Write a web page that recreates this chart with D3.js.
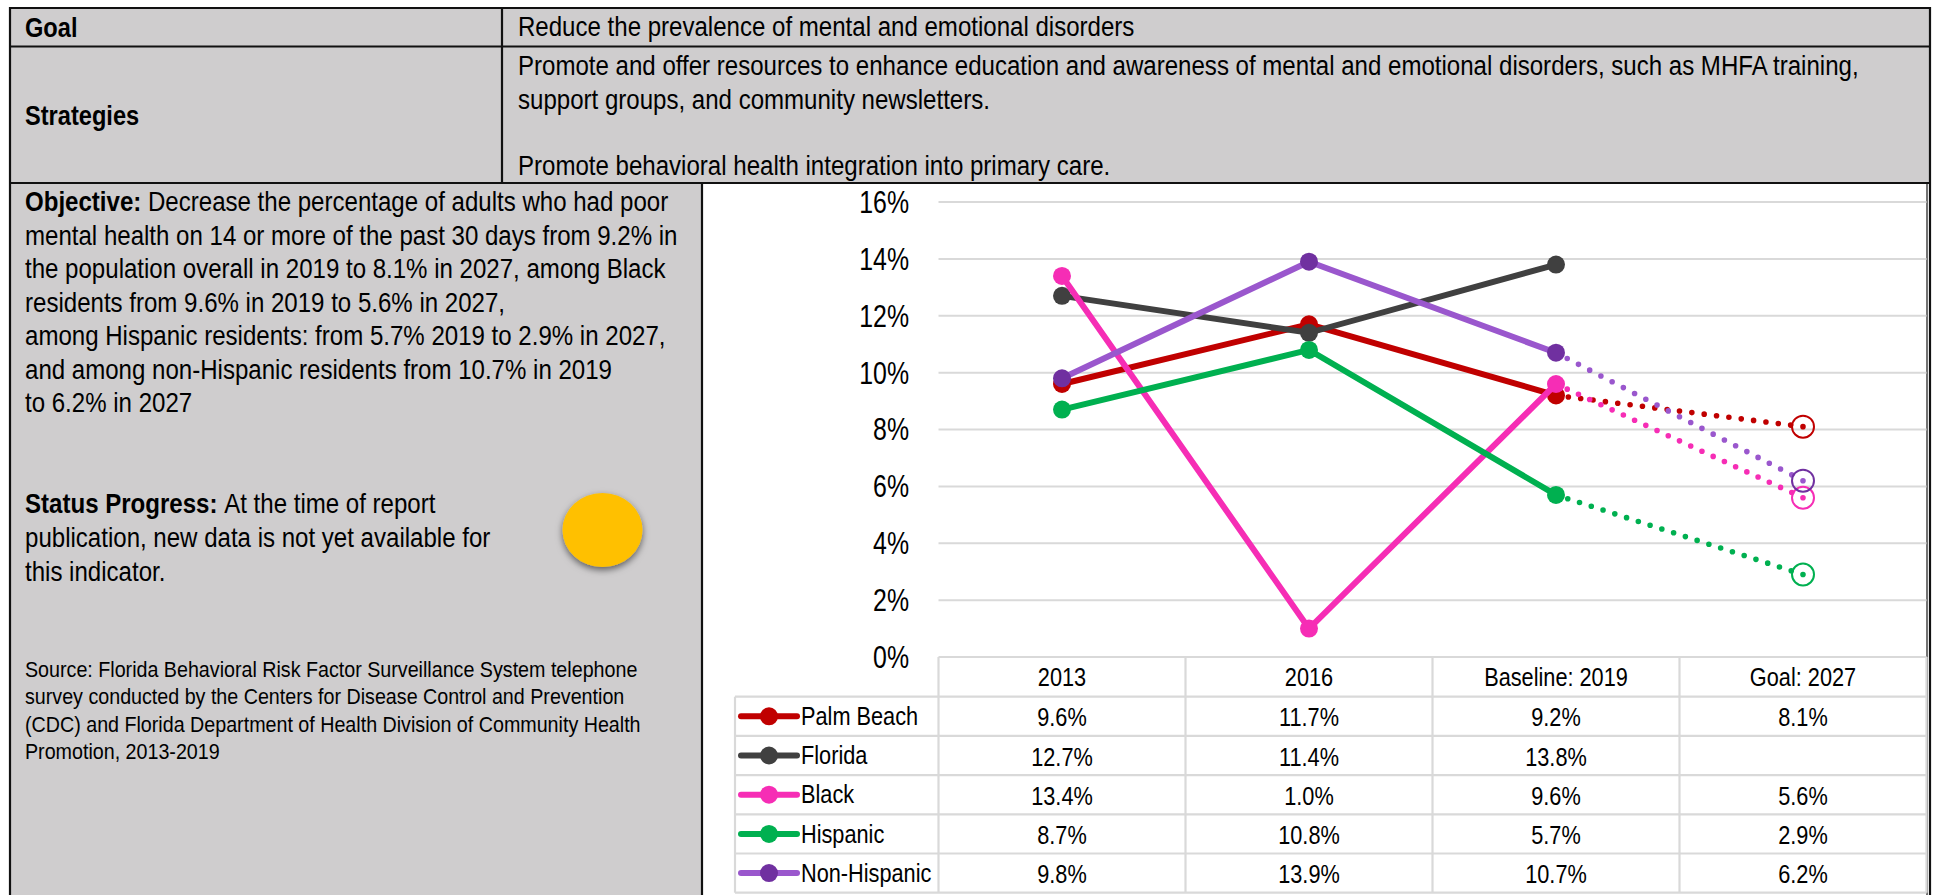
<!DOCTYPE html>
<html>
<head>
<meta charset="utf-8">
<script src="https://cdn.jsdelivr.net/npm/d3@7"></script>
<style>
  body { margin: 0; background: #fff; }
  svg { display: block; }
  text { font-family: "Liberation Sans", Arial, sans-serif; fill: #000; }
</style>
</head>
<body>
<div class="container"></div>
<script>
var categories = ["2013", "2016", "Baseline: 2019", "Goal: 2027"];
var seriesNames = ["Palm Beach", "Florida", "Black", "Hispanic", "Non-Hispanic"];

var palmBeach = [9.6, 11.7, 9.2, 8.1];
var florida = [12.7, 11.4, 13.8, null];
var black = [13.4, 1.0, 9.6, 5.6];
var hispanic = [8.7, 10.8, 5.7, 2.9];
var nonHispanic = [9.8, 13.9, 10.7, 6.2];

var yTicks = [0, 2, 4, 6, 8, 10, 12, 14, 16];

var goalText = "Reduce the prevalence of mental and emotional disorders";
var strategyLines = [
  "Promote and offer resources to enhance education and awareness of mental and emotional disorders, such as MHFA training,",
  "support groups, and community newsletters.",
  "Promote behavioral health integration into primary care."
];
var objectiveLines = [
  "Decrease the percentage of adults who had poor",
  "mental health on 14 or more of the past 30 days from 9.2% in",
  "the population overall in 2019 to 8.1% in 2027, among Black",
  "residents from 9.6% in 2019 to 5.6% in 2027,",
  "among Hispanic residents: from 5.7% 2019 to 2.9% in 2027,",
  "and among non-Hispanic residents from 10.7% in 2019",
  "to 6.2% in 2027"
];
var statusLines = [
  "At the time of report",
  "publication, new data is not yet available for",
  "this indicator."
];
var sourceLines = [
  "Source: Florida Behavioral Risk Factor Surveillance System telephone",
  "survey conducted by the Centers for Disease Control and Prevention",
  "(CDC) and Florida Department of Health Division of Community Health",
  "Promotion, 2013-2019"
];

const WIDTH = 1939;
const HEIGHT = 895;
const PANEL_GREY = "#cfcdce";
const BORDER = "#111";
const GRID = "#d9d9d9";
const PANEL_SX = 0.875; // the source picture is squeezed horizontally
const TABLE_SX = 0.82;
const AXIS_SX = 0.79;
const BODY_SIZE = 27.5;
const LINE_WIDTH = 6;

const LINE_COLORS = ["#c00000", "#404040", "#f62db5", "#00b050", "#9a57cd"];
const MARKER_COLORS = ["#c00000", "#404040", "#f62db5", "#00b050", "#7030a0"];

const PANEL_RIGHT = 1930;
const PLOT_LEFT = 938.5;
const PLOT_RIGHT = 1926.5;
const PLOT_TOP = 202;
const PLOT_BOTTOM = 657;
const LEGEND_LEFT = 735;
const ROW_HEIGHT = 39.2;

var allSeries = [palmBeach, florida, black, hispanic, nonHispanic];

var translate = function(x, y){
  return "translate(" + x + "," + y + ")";
};

var xScale = d3.scaleBand().domain(categories).range([PLOT_LEFT, PLOT_RIGHT]);
var yScale = d3.scaleLinear().domain([0, 16]).range([PLOT_BOTTOM, PLOT_TOP]);
var rowScale = d3.scaleBand().domain(seriesNames)
  .range([PLOT_BOTTOM + 39.7, PLOT_BOTTOM + 39.7 + 5 * ROW_HEIGHT]);

var xMid = function(i){ return xScale(categories[i]) + xScale.bandwidth() / 2; };

var line = d3.line()
  .defined(function(d){ return d[1] != null; })
  .x(function(d){ return xMid(d[0]); })
  .y(function(d){ return yScale(d[1]); });

// one line of squeezed text, runs is a list of [string, bold]
var addText = function(parent, x, y, size, runs, sx, anchor){
  var t = parent.append("text")
    .attr("transform", translate(x, y) + " scale(" + sx + ",1)")
    .attr("font-size", size)
    .attr("text-anchor", anchor || "start");
  runs.forEach(function(r){
    t.append("tspan").attr("font-weight", r[1] ? "bold" : "normal").text(r[0]);
  });
  return t;
};

var drawPanels = function(svg){
  svg.append("rect").attr("x", 10).attr("y", 7).attr("width", PANEL_RIGHT - 10).attr("height", 176).attr("fill", PANEL_GREY);
  svg.append("rect").attr("x", 10).attr("y", 183).attr("width", 692).attr("height", HEIGHT - 183).attr("fill", PANEL_GREY);

  var rules = [
    [10, 8, PANEL_RIGHT, 8], [10, 46.5, PANEL_RIGHT, 46.5], [10, 183, PANEL_RIGHT, 183],
    [10, 7, 10, HEIGHT], [PANEL_RIGHT, 7, PANEL_RIGHT, HEIGHT], [502, 7, 502, 183], [702, 183, 702, HEIGHT]
  ];
  svg.selectAll("line.rule").data(rules).enter().append("line")
    .attr("class", "rule")
    .attr("x1", function(d){ return d[0]; }).attr("y1", function(d){ return d[1]; })
    .attr("x2", function(d){ return d[2]; }).attr("y2", function(d){ return d[3]; })
    .attr("stroke", BORDER).attr("stroke-width", 2.2);

  // inner frame of the chart picture
  svg.append("line").attr("x1", 1927).attr("x2", 1927).attr("y1", 184).attr("y2", HEIGHT)
    .attr("stroke", "#444").attr("stroke-width", 1.5);

  addText(svg, 25, 37, 27, [["Goal", true]], PANEL_SX);
  addText(svg, 25, 125, 27, [["Strategies", true]], PANEL_SX);
  addText(svg, 518, 36, BODY_SIZE, [[goalText, false]], PANEL_SX);
  addText(svg, 518, 75, BODY_SIZE, [[strategyLines[0], false]], PANEL_SX);
  addText(svg, 518, 108.5, BODY_SIZE, [[strategyLines[1], false]], PANEL_SX);
  addText(svg, 518, 175, BODY_SIZE, [[strategyLines[2], false]], PANEL_SX);

  var objY = d3.scaleLinear().domain([0, 6]).range([211, 412]);
  objectiveLines.forEach(function(s, i){
    var runs = i == 0 ? [["Objective: ", true], [s, false]] : [[s, false]];
    addText(svg, 25, objY(i), BODY_SIZE, runs, PANEL_SX);
  });

  statusLines.forEach(function(s, i){
    var runs = i == 0 ? [["Status Progress: ", true], [s, false]] : [[s, false]];
    addText(svg, 25, 513 + i * 34, BODY_SIZE, runs, PANEL_SX);
  });

  sourceLines.forEach(function(s, i){
    addText(svg, 25, 677 + i * 27.3, 22.5, [[s, false]], PANEL_SX);
  });

  // yellow status dot with soft shadow
  var filter = svg.append("defs").append("filter").attr("id", "shadow")
    .attr("x", "-30%").attr("y", "-30%").attr("width", "160%").attr("height", "160%");
  filter.append("feDropShadow").attr("dx", 0).attr("dy", 3).attr("stdDeviation", 3.5)
    .attr("flood-color", "#000").attr("flood-opacity", 0.55);
  svg.append("ellipse").attr("cx", 602.5).attr("cy", 530).attr("rx", 40).attr("ry", 37)
    .attr("fill", "#ffc000").attr("filter", "url(#shadow)");
};

var drawAxis = function(svg){
  var yAxis = d3.axisLeft(yScale)
    .tickValues(yTicks)
    .tickFormat(function(d){ return d + "%"; })
    .tickSize(0);
  var g = svg.append("g").attr("transform", translate(PLOT_LEFT, 0)).call(yAxis);
  g.select(".domain").remove();
  g.selectAll("text")
    .attr("transform", "scale(" + AXIS_SX + ",1)")
    .attr("x", -29.5 / AXIS_SX)
    .attr("dy", 10.4)
    .attr("font-size", 31.5)
    .attr("font-family", "Liberation Sans")
    .attr("fill", "#111");

  svg.selectAll("line.grid").data(yTicks.slice(1)).enter().append("line")
    .attr("class", "grid")
    .attr("x1", PLOT_LEFT).attr("x2", PLOT_RIGHT)
    .attr("y1", function(d){ return yScale(d); }).attr("y2", function(d){ return yScale(d); })
    .attr("stroke", GRID).attr("stroke-width", 2);
};

var drawTable = function(svg){
  var rowTop = rowScale(seriesNames[0]);
  var rowBottom = rowScale.range()[1];

  var g = svg.append("g").attr("stroke", GRID).attr("stroke-width", 2.2);
  g.append("line").attr("x1", PLOT_LEFT).attr("x2", PLOT_RIGHT).attr("y1", PLOT_BOTTOM).attr("y2", PLOT_BOTTOM);
  seriesNames.forEach(function(n){
    g.append("line").attr("x1", LEGEND_LEFT).attr("x2", PLOT_RIGHT).attr("y1", rowScale(n)).attr("y2", rowScale(n));
  });
  g.append("line").attr("x1", LEGEND_LEFT).attr("x2", PLOT_RIGHT).attr("y1", rowBottom).attr("y2", rowBottom);
  g.append("line").attr("x1", LEGEND_LEFT).attr("x2", LEGEND_LEFT).attr("y1", rowTop).attr("y2", rowBottom);
  categories.forEach(function(c){
    g.append("line").attr("x1", xScale(c)).attr("x2", xScale(c)).attr("y1", PLOT_BOTTOM).attr("y2", rowBottom);
  });
  g.append("line").attr("x1", PLOT_RIGHT).attr("x2", PLOT_RIGHT).attr("y1", PLOT_BOTTOM).attr("y2", rowBottom);

  categories.forEach(function(c, i){
    addText(svg, xMid(i), 685.7, 26.5, [[c, false]], TABLE_SX, "middle");
  });

  seriesNames.forEach(function(name, s){
    var top = rowScale(name);
    var mid = top + ROW_HEIGHT / 2;

    svg.append("line").attr("x1", 741).attr("x2", 797).attr("y1", mid).attr("y2", mid)
      .attr("stroke", LINE_COLORS[s]).attr("stroke-width", LINE_WIDTH).attr("stroke-linecap", "round");
    svg.append("circle").attr("cx", 769).attr("cy", mid).attr("r", 9).attr("fill", MARKER_COLORS[s]);
    addText(svg, 801, mid + 8.7, 26.5, [[name, false]], TABLE_SX);

    allSeries[s].forEach(function(v, i){
      if (v != null) addText(svg, xMid(i), mid + 10, 26.5, [[d3.format(".1f")(v) + "%", false]], TABLE_SX, "middle");
    });
  });
};

var drawSeries = function(svg){
  allSeries.forEach(function(values, s){
    var pts = values.map(function(v, i){ return [i, v]; });
    var g = svg.append("g");

    // solid part up to the baseline
    g.append("path").datum(pts.slice(0, 3)).attr("d", line)
      .attr("fill", "none").attr("stroke", LINE_COLORS[s]).attr("stroke-width", LINE_WIDTH);

    // dotted part from baseline to goal, spacing fitted so a dot lands on the goal
    if (values[3] != null) {
      var dotted = g.append("path").datum(pts.slice(2, 4)).attr("d", line)
        .attr("fill", "none").attr("stroke", LINE_COLORS[s]).attr("stroke-width", 5.6)
        .attr("stroke-linecap", "round");
      var len = dotted.node().getTotalLength();
      dotted.attr("stroke-dasharray", "0 " + (len / Math.round(len / 12.45) - 0.001));
      g.append("circle").attr("cx", xMid(3)).attr("cy", yScale(values[3])).attr("r", 11)
        .attr("fill", "none").attr("stroke", MARKER_COLORS[s]).attr("stroke-width", 2);
    }

    g.selectAll("circle.pt").data(pts.slice(0, 3)).enter().append("circle")
      .attr("class", "pt")
      .attr("cx", function(d){ return xMid(d[0]); })
      .attr("cy", function(d){ return yScale(d[1]); })
      .attr("r", 9)
      .attr("fill", MARKER_COLORS[s]);
  });
};

var generateChart = function(){
  var svg = d3.select(".container").append("svg")
    .attr("width", WIDTH)
    .attr("height", HEIGHT);

  drawPanels(svg);
  drawAxis(svg);
  drawTable(svg);
  drawSeries(svg);
};

window.onload = generateChart;
</script>
</body>
</html>
